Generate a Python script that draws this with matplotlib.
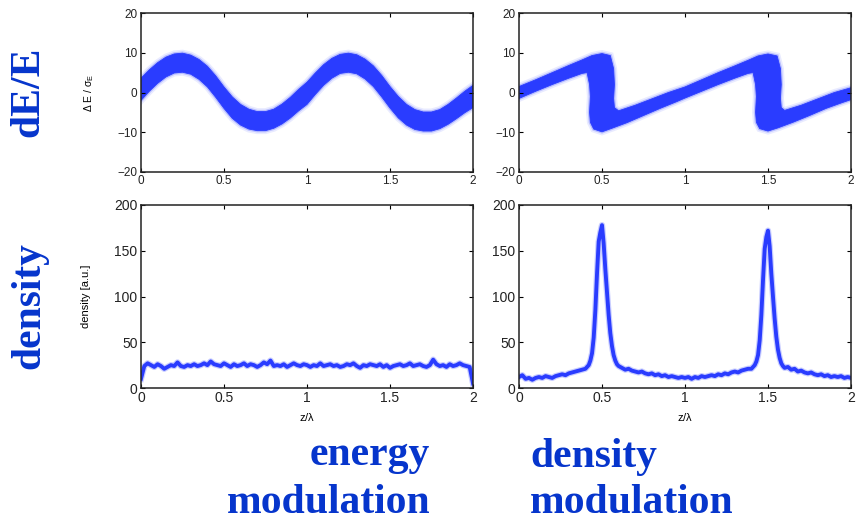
#!/usr/bin/env python3
"""Energy and density modulation of a beam: phase space and line density."""
import matplotlib
matplotlib.use("Agg")
import matplotlib.pyplot as plt
import numpy as np

# energy-modulated beam: centre and half-spread of the dE band vs z/lambda
energy_z = np.linspace(0.0, 2.0, 41)
energy_center = [0.8, 3.0, 4.9, 6.4, 7.3, 7.5, 7.0, 5.8, 4.0, 1.5,
                 -1.3, -3.8, -5.6, -6.7, -7.2, -7.2, -6.6, -5.4, -3.8, -1.9,
                 -0.2, 2.2, 4.4, 6.1, 7.2, 7.5, 7.1, 5.9, 4.1, 1.6,
                 -1.2, -3.7, -5.6, -6.8, -7.3, -7.3, -6.7, -5.5, -4.0, -2.4,
                 -1.0]
energy_spread = [2.8, 2.7, 2.6, 2.5, 2.4, 2.4, 2.4, 2.5, 2.6, 2.7,
                 2.7, 2.7, 2.6, 2.5, 2.4, 2.4, 2.4, 2.5, 2.6, 2.7,
                 2.8, 2.7, 2.6, 2.5, 2.4, 2.4, 2.4, 2.5, 2.6, 2.7,
                 2.7, 2.7, 2.6, 2.5, 2.4, 2.4, 2.4, 2.5, 2.6, 2.7,
                 2.8]

# bunched beam after the chicane: upper and lower outline of the folded band
fold_upper_z = [0.00, 0.10, 0.20, 0.30, 0.38, 0.44, 0.50, 0.55, 0.57, 0.575,
                0.57, 0.575, 0.60, 0.70, 0.80, 0.90, 1.00, 1.10, 1.20, 1.30,
                1.38, 1.44, 1.50, 1.555, 1.575, 1.58, 1.575, 1.58, 1.60, 1.70,
                1.80, 1.90, 2.00]
fold_upper_de = [1.5, 3.2, 5.0, 6.8, 8.2, 9.3, 9.8, 9.3, 6.0, 2.0,
                 -1.5, -3.8, -4.6, -3.2, -1.6, 0.0, 1.4, 3.2, 5.0, 6.7,
                 8.1, 9.2, 9.7, 9.2, 6.0, 2.0, -1.5, -3.8, -4.5, -3.2,
                 -1.6, 0.0, 1.2]
fold_lower_z = [0.00, 0.10, 0.20, 0.30, 0.38, 0.41, 0.425, 0.43, 0.425, 0.43,
                0.45, 0.50, 0.56, 0.65, 0.75, 0.85, 0.95, 1.00, 1.10, 1.20,
                1.30, 1.38, 1.41, 1.425, 1.43, 1.425, 1.43, 1.45, 1.50, 1.56,
                1.65, 1.75, 1.85, 1.95, 2.00]
fold_lower_de = [-1.5, 0.3, 2.0, 3.6, 4.8, 5.0, 2.0, -1.0, -5.0, -7.5,
                 -9.2, -9.9, -9.0, -7.6, -5.8, -4.0, -2.3, -1.4, 0.3, 2.0,
                 3.6, 4.8, 5.0, 2.0, -1.0, -5.0, -7.5, -9.1, -9.7, -8.9,
                 -7.5, -5.8, -4.0, -2.5, -1.8]

# line density of the energy-modulated beam
flat_density = [10, 24, 27, 25, 23, 26, 24, 21, 23, 25,
                24, 28, 24, 23, 25, 24, 26, 24, 25, 27,
                25, 29, 26, 25, 24, 27, 25, 23, 26, 24,
                25, 27, 24, 26, 25, 23, 25, 28, 26, 30,
                24, 25, 24, 26, 23, 25, 27, 25, 24, 26,
                25, 23, 25, 24, 27, 24, 25, 26, 24, 25,
                23, 24, 26, 25, 27, 24, 22, 25, 24, 26,
                25, 24, 26, 23, 25, 22, 24, 25, 26, 24,
                25, 27, 24, 25, 26, 24, 23, 25, 31, 26,
                24, 25, 23, 26, 24, 25, 27, 25, 24, 23,
                5]

# line density of the bunched beam (finer sampling across the peaks)
bunch_z = np.concatenate([
    np.linspace(0.00, 0.38, 20), np.linspace(0.40, 0.60, 21),
    np.linspace(0.62, 1.38, 39), np.linspace(1.40, 1.60, 21),
    np.linspace(1.62, 2.00, 20)])
bunch_density = [12, 14, 10, 11, 9, 11, 12, 11, 13, 12,
                 11, 13, 14, 15, 14, 16, 17, 18, 19, 20,
                 21, 23, 25, 30, 38, 55, 85, 125, 160, 170,
                 178, 158, 130, 105, 80, 60, 46, 36, 30, 26, 24,
                 22, 20, 21, 19, 18, 17, 18, 16, 15, 16,
                 14, 15, 13, 14, 12, 13, 12, 11, 12, 11,
                 12, 10, 12, 11, 13, 12, 13, 14, 13, 15,
                 14, 16, 15, 17, 18, 17, 19, 20, 21,
                 21, 23, 25, 29, 36, 52, 80, 118, 152, 165,
                 172, 155, 125, 100, 76, 56, 42, 33, 27, 24, 22,
                 23, 20, 21, 18, 19, 17, 16, 17, 15, 14,
                 15, 13, 14, 12, 13, 12, 13, 11, 12, 11]

z_ticks = [0, 0.5, 1, 1.5, 2]
z_ticklabels = ["0", "0.5", "1", "1.5", "2"]
de_ticks = [-20, -10, 0, 10, 20]
dens_ticks = [0, 50, 100, 150, 200]

BEAM = "#2a3cff"
TITLE_BLUE = "#0635cc"
TICK_GREY = "#222222"

plt.rcParams["font.family"] = ["Liberation Sans", "DejaVu Sans"]
plt.rcParams["mathtext.fontset"] = "custom"
plt.rcParams["mathtext.rm"] = "Liberation Sans"
plt.rcParams["mathtext.it"] = "Liberation Sans"


def style_axes(ax, yticks, ylim, size):
    ax.set_xlim(0, 2)
    ax.set_ylim(*ylim)
    ax.set_xticks(z_ticks)
    ax.set_xticklabels(z_ticklabels)
    ax.set_yticks(yticks)
    ax.tick_params(direction="in", length=3, width=0.8, top=True, right=True,
                   labelsize=size, labelcolor=TICK_GREY, pad=2.5)
    for sp in ax.spines.values():
        sp.set_linewidth(1.1)
        sp.set_color("#222222")


def draw_band(ax, xs, ys):
    # sparse particles at the edge of the band, then the dense core
    ax.fill(xs, ys, facecolor="none", edgecolor=BEAM, lw=5, alpha=0.10)
    ax.fill(xs, ys, facecolor="none", edgecolor=BEAM, lw=2.5, alpha=0.25)
    ax.fill(xs, ys, facecolor=BEAM, edgecolor=BEAM, lw=0.6)


W, H = 859, 522
fig = plt.figure(figsize=(W / 100, H / 100), dpi=100)


def add_axes(left, top, right, bottom):
    return fig.add_axes([left / W, 1 - bottom / H, (right - left) / W, (bottom - top) / H])


ax_tl = add_axes(141, 13, 473, 172)
ax_tr = add_axes(519, 13, 851, 172)
ax_bl = add_axes(141, 205, 473, 388)
ax_br = add_axes(519, 205, 851, 388)

# energy modulation
center = np.asarray(energy_center)
spread = np.asarray(energy_spread)
upper = center + spread
lower = center - spread
draw_band(ax_tl, np.r_[energy_z, energy_z[::-1]], np.r_[upper, lower[::-1]])
style_axes(ax_tl, de_ticks, (-20, 20), 8.5)
ax_tl.set_ylabel(r"$\Delta$ E / $\sigma_{\rm E}$", fontsize=7.5)
ax_tl.yaxis.set_label_coords(-0.135, 0.5)

# folded phase space after bunching
draw_band(ax_tr, np.r_[fold_upper_z, fold_lower_z[::-1]],
          np.r_[fold_upper_de, fold_lower_de[::-1]])
style_axes(ax_tr, de_ticks, (-20, 20), 8.5)

# densities
flat_z = np.linspace(0.0, 2.0, len(flat_density))
for ax, zz, dd in [(ax_bl, flat_z, flat_density), (ax_br, bunch_z, bunch_density)]:
    ax.plot(zz, dd, color=BEAM, lw=4.5, alpha=0.25, solid_joinstyle="round")
    ax.plot(zz, dd, color=BEAM, lw=2.8, solid_joinstyle="round")
    style_axes(ax, dens_ticks, (0, 200), 10)
    ax.set_xlabel(r"z/$\lambda$", fontsize=8)
    ax.xaxis.set_label_coords(0.5, -0.125)
ax_bl.set_ylabel("density [a.u.]", fontsize=8)
ax_bl.yaxis.set_label_coords(-0.15, 0.5)

# row and column captions
serif = dict(family=["Liberation Serif", "DejaVu Serif"], weight="bold",
             color=TITLE_BLUE, fontsize=30)
fig.text(28 / W, 1 - 92 / H, "dE/E", rotation=90, ha="center", va="center", **serif)
fig.text(29 / W, 1 - 306 / H, "density", rotation=90, ha="center", va="center", **serif)
fig.text(430 / W, 1 - 465 / H, "energy", ha="right", va="baseline", **serif)
fig.text(430 / W, 1 - 513 / H, "modulation", ha="right", va="baseline", **serif)
fig.text(530 / W, 1 - 467 / H, "density", ha="left", va="baseline", **serif)
fig.text(530 / W, 1 - 513 / H, "modulation", ha="left", va="baseline", **serif)

fig.savefig("out.png", dpi=100)
